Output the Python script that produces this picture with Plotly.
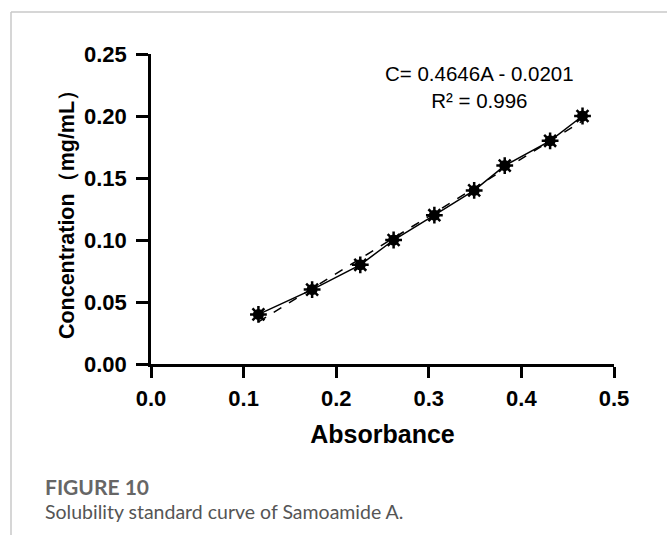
import plotly.graph_objects as go

absorbance = [0.116, 0.174, 0.226, 0.262, 0.306, 0.349, 0.382, 0.431, 0.466]
concentration = [0.04, 0.06, 0.08, 0.10, 0.12, 0.14, 0.16, 0.18, 0.20]
fit_x = [0.116, 0.466]
fit_y = [0.034, 0.196]
x_ticks = [0.0, 0.1, 0.2, 0.3, 0.4, 0.5]
x_ticklabels = ["0.0", "0.1", "0.2", "0.3", "0.4", "0.5"]
y_ticks = [0.00, 0.05, 0.10, 0.15, 0.20, 0.25]
y_ticklabels = ["0.00", "0.05", "0.10", "0.15", "0.20", "0.25"]

fig = go.Figure()
fig.add_trace(go.Scatter(x=fit_x, y=fit_y, mode="lines",
                         line=dict(color="black", width=1.5, dash="dash"),
                         showlegend=False, hoverinfo="skip"))
fig.add_trace(go.Scatter(x=absorbance, y=concentration, mode="lines+markers",
                         line=dict(color="black", width=1.5),
                         marker=dict(symbol="circle", size=11, color="black"),
                         showlegend=False))
fig.add_trace(go.Scatter(x=absorbance, y=concentration, mode="markers",
                         marker=dict(symbol="asterisk-open", size=14, color="black",
                                     line=dict(color="black", width=2.5)),
                         showlegend=False, hoverinfo="skip"))

tick_font = dict(family="Liberation Sans, Arial", size=22, color="black", weight="bold")
fig.update_xaxes(range=[0, 0.5], tickvals=x_ticks, ticktext=x_ticklabels,
                 showgrid=False, zeroline=False, showline=True,
                 linecolor="black", linewidth=2.5, ticks="outside",
                 ticklen=11, tickwidth=2.5, tickcolor="black",
                 ticklabelstandoff=2,
                 tickfont=tick_font,
                 title=dict(text="<b>Absorbance</b>", standoff=16,
                            font=dict(family="Liberation Sans, Arial", size=25, color="black")))
fig.update_yaxes(range=[0, 0.25], tickvals=y_ticks, ticktext=y_ticklabels,
                 showgrid=False, zeroline=False, showline=True,
                 linecolor="black", linewidth=2.5, ticks="outside",
                 ticklen=12, tickwidth=2.5, tickcolor="black",
                 ticklabelstandoff=5,
                 tickfont=tick_font,
                 title=dict(text="<b>Concentration（mg/mL）</b>", standoff=4,
                            font=dict(family="Liberation Sans, Arial", size=21.5, color="black")))

L, R, T, B = 151, 53, 54, 171
W, H = 667, 535
pw, ph = W - L - R, H - T - B

def px(xp):
    return (xp - L) / pw

def py(yp):
    return (H - B - yp) / ph

shapes = [
    dict(type="line", xref="paper", yref="paper", x0=px(11), x1=px(667), y0=py(12), y1=py(12),
         line=dict(color="#c8c8c8", width=1.5)),
    dict(type="line", xref="paper", yref="paper", x0=px(11), x1=px(11), y0=py(12), y1=py(535),
         line=dict(color="#c8c8c8", width=1.5)),
]

annotations = [
    dict(text="C= 0.4646A - 0.0201<br>R² = 0.996", xref="paper", yref="paper",
         x=px(479), y=py(87), xanchor="center", yanchor="middle", showarrow=False,
         font=dict(family="Liberation Sans, Arial", size=20.5, color="black")),
    dict(text="<b>FIGURE 10</b>", xref="paper", yref="paper",
         x=px(43), y=py(486), xanchor="left", yanchor="middle", showarrow=False,
         font=dict(family="Lato, Open Sans", size=21, color="#666666")),
    dict(text="Solubility standard curve of Samoamide A.", xref="paper", yref="paper",
         x=px(43), y=py(511), xanchor="left", yanchor="middle", showarrow=False,
         font=dict(family="Lato, Open Sans", size=19.5, color="#555555")),
]

fig.update_layout(width=W, height=H, margin=dict(l=L, r=R, t=T, b=B),
                  paper_bgcolor="white", plot_bgcolor="white",
                  shapes=shapes, annotations=annotations, showlegend=False)

fig.write_html("out.html", config={"displayModeBar": False},
               post_script="document.body.style.margin='0';")
